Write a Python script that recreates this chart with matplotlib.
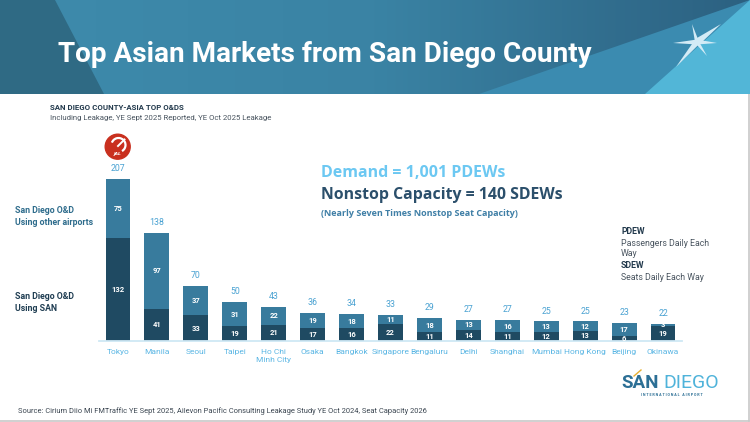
import numpy as np
import matplotlib
matplotlib.use("Agg")
import matplotlib.pyplot as plt
from matplotlib.patches import Polygon, Circle, Arc
from matplotlib.colors import LinearSegmentedColormap

# data (PDEWs)
cities = ['Tokyo', 'Manila', 'Seoul', 'Taipei', 'Ho Chi\nMinh City', 'Osaka',
          'Bangkok', 'Singapore', 'Bengaluru', 'Delhi', 'Shanghai', 'Mumbai',
          'Hong Kong', 'Beijing', 'Okinawa']
using_san = [132, 41, 33, 19, 21, 17, 16, 22, 11, 14, 11, 12, 13, 6, 19]
using_other = [75, 97, 37, 31, 22, 19, 18, 11, 18, 13, 16, 13, 12, 17, 3]
totals = [207, 138, 70, 50, 43, 36, 34, 33, 29, 27, 27, 25, 25, 23, 22]

DARK = '#1f4a62'
MID = '#387b9d'
LIGHT_TXT = '#5ab6e4'
TOTAL_TXT = '#4aa2d2'

fig = plt.figure(figsize=(7.5, 4.22), dpi=100)

# background axes in pixel coordinates
bg = fig.add_axes([0, 0, 1, 1], zorder=0)
bg.set_xlim(0, 750)
bg.set_ylim(422, 0)
bg.axis('off')

# header banner with a horizontal gradient
cmap = LinearSegmentedColormap.from_list('hdr', ['#3e8bac', '#3a83a4', '#2c6181'])
grad = np.linspace(0, 1, 300).reshape(1, -1)
bg.imshow(grad, cmap=cmap, extent=(0, 750, 94, 0), aspect='auto', zorder=1)
bg.add_patch(Polygon([(0, 0), (55, 0), (104, 94), (0, 94)], closed=True,
                     color='#2f6a84', zorder=2, lw=0))
bg.add_patch(Polygon([(479, 94), (750, 0), (750, 94)], closed=True,
                     color='#3b8bb0', zorder=2, lw=0))
bg.add_patch(Polygon([(645, 94), (750, 0), (750, 94)], closed=True,
                     color='#52b6d7', zorder=3, lw=0))


def blade(cx, cy, tx, ty, w):
    dx, dy = tx - cx, ty - cy
    n = np.hypot(dx, dy)
    px, py = -dy / n * w / 2, dx / n * w / 2
    return [(cx + px, cy + py), (tx, ty), (cx - px, cy - py)]


# little plane mark in the banner
pc = '#d3ebf6'
for tip, w in [((721, 24), 7), ((676, 67), 6), ((673, 43), 5), ((717, 43), 5),
               ((692, 24), 4), ((707, 56), 4)]:
    bg.add_patch(Polygon(blade(697, 42, tip[0], tip[1], w), closed=True,
                         color=pc, zorder=4, lw=0))

bg.text(58, 54, 'Top Asian Markets from San Diego County', color='white',
        fontsize=20.1, fontweight='bold', family='Roboto', va='center', ha='left', zorder=5)

# subtitle
bg.text(50, 107, 'SAN DIEGO COUNTY-ASIA TOP O&DS', color='#233a4d', fontsize=5.7,
        fontweight='bold', family='Roboto', va='center')
bg.text(50, 118, 'Including Leakage, YE Sept 2025 Reported, YE Oct 2025 Leakage',
        color='#4a5560', fontsize=5.6, family='Roboto', va='center')

# left side series labels
bg.text(15, 216.5, 'San Diego O&D\nUsing other airports', color='#2e6c8c', fontsize=6.3,
        fontweight='bold', family='Roboto', va='center', linespacing=1.4)
bg.text(15, 302.5, 'San Diego O&D\nUsing SAN', color='#1f3d52', fontsize=6.3,
        fontweight='bold', family='Roboto', va='center', linespacing=1.4)

# demand / capacity callout
bg.text(321, 173, 'Demand = 1,001 PDEWs', color='#6cc8f2', fontsize=11.5,
        fontweight='bold', family='Open Sans', va='center')
bg.text(321, 195, 'Nonstop Capacity = 140 SDEWs', color='#2b4f6b', fontsize=11.4,
        fontweight='bold', family='Open Sans', va='center')
bg.text(321, 213, '(Nearly Seven Times Nonstop Seat Capacity)', color='#3f7fa6',
        fontsize=6.5, fontweight='bold', family='Open Sans', va='center')

# definitions
defs = [('PDEW', 231, True), ('Passengers Daily Each', 243, False), ('Way', 254, False),
        ('SDEW', 265, True), ('Seats Daily Each Way', 277, False)]
for txt, yy, bold in defs:
    bg.text(621, yy, txt, color='#233a4d' if bold else '#4a5560', fontsize=6.3,
            fontweight='bold' if bold else 'normal', family='Roboto', va='center')

# JAL logo above Tokyo
bg.add_patch(Circle((117.7, 146.7), 12.5, color='#c9301f', zorder=3))
bg.add_patch(Arc((118.5, 145), 14, 14, theta1=200, theta2=60, color='white', lw=1.6, zorder=4))
bg.plot([118, 124.5], [146, 139.5], color='white', lw=1.4, zorder=4)
bg.text(118, 154, 'JAL', color='white', fontsize=3.2, fontweight='bold', style='italic',
        family='DejaVu Sans', ha='center', va='center', zorder=5)

# San Diego airport logo
bg.text(621, 383, 'SAN', color='#2c6f95', fontsize=13.5, fontweight='bold',
        family='Roboto', va='center', ha='left')
bg.text(663, 383, 'DIEGO', color='#4fb3da', fontsize=14, family='Roboto',
        va='center', ha='left')
bg.plot([634, 641], [376, 370], color='#e8b030', lw=1.0)
bg.text(672, 395, 'I N T E R N A T I O N A L   A I R P O R T', color='#2c6f95',
        fontsize=2.6, fontweight='bold', family='Roboto', va='center', ha='center')

# source
bg.text(18, 411, 'Source: Cirium Diio Mi FMTraffic YE Sept 2025, Ailevon Pacific Consulting '
        'Leakage Study YE Oct 2024, Seat Capacity 2026', color='#3a4550', fontsize=5.4,
        family='Roboto', va='center')

# slide border lines
bg.plot([748.5, 748.5], [94, 421], color='#c8c8c8', lw=1.2)
bg.plot([0, 749], [420.5, 420.5], color='#c8c8c8', lw=1.2)

# chart axes
ax = fig.add_axes([98.5 / 750, 81 / 422, 584 / 750, 195.6 / 422], zorder=2)
ax.patch.set_alpha(0)
x = np.arange(len(cities))
ax.bar(x, using_san, width=0.64, color=DARK, zorder=2)
ax.bar(x, using_other, width=0.64, bottom=using_san, color=MID, zorder=2)
ax.set_xlim(-0.5, 14.5)
ax.set_ylim(0, 250)

for i in range(len(cities)):
    ax.text(x[i], using_san[i] / 2, str(using_san[i]), color='white', fontsize=5.5,
            fontweight='bold', family='Roboto', ha='center', va='center', zorder=3)
    ax.text(x[i], using_san[i] + using_other[i] / 2, str(using_other[i]), color='white',
            fontsize=5.5, fontweight='bold', family='Roboto', ha='center', va='center', zorder=3)
    ax.annotate(str(totals[i]), (x[i], totals[i]), xytext=(0, 7.5),
                textcoords='offset points', color=TOTAL_TXT, fontsize=6.3,
                family='Roboto', ha='center', va='center')

for s in ['top', 'right', 'left']:
    ax.spines[s].set_visible(False)
ax.spines['bottom'].set_color('#cfe8f5')
ax.spines['bottom'].set_linewidth(1.3)
ax.set_yticks([])
ax.set_xticks(x)
ax.set_xticklabels(cities, color=LIGHT_TXT, fontsize=6, family='Roboto',
                   linespacing=1.4, va='top')
ax.tick_params(axis='x', length=0, pad=6)

fig.savefig('out.png', dpi=100)
